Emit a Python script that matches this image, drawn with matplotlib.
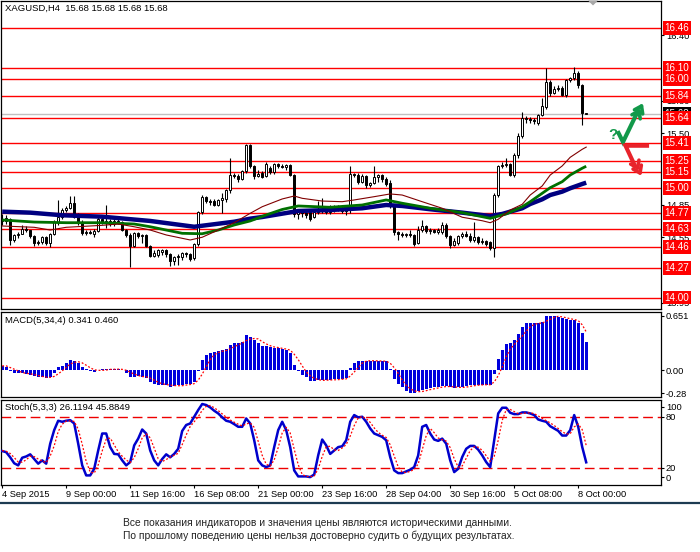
import numpy as np
import matplotlib
matplotlib.use("Agg")
import matplotlib.pyplot as plt
import matplotlib.transforms as mtrans
from matplotlib.patches import Polygon

plt.rcParams['font.family'] = ['Liberation Sans', 'DejaVu Sans']

# XAGUSD H4 candles, 4 Sep 2015 .. 8 Oct 2015
opens = [14.72, 14.70, 14.72, 14.53, 14.57, 14.58, 14.63, 14.62, 14.56, 14.50,
         14.51, 14.55, 14.50, 14.58, 14.69, 14.74, 14.80, 14.82, 14.86, 14.74,
         14.69, 14.59, 14.60, 14.58, 14.61, 14.72, 14.69, 14.70, 14.67, 14.70,
         14.69, 14.62, 14.57, 14.47, 14.59, 14.56, 14.57, 14.47, 14.38, 14.39,
         14.42, 14.43, 14.40, 14.33, 14.37, 14.37, 14.41, 14.40, 14.36, 14.49,
         14.78, 14.92, 14.88, 14.88, 14.85, 14.89, 14.90, 14.98, 15.12, 15.11,
         15.08, 15.16, 15.39, 15.20, 15.11, 15.14, 15.11, 15.18, 15.15, 15.22,
         15.20, 15.19, 15.21, 15.12, 14.76, 14.78, 14.77, 14.78, 14.74, 14.78,
         14.80, 14.79, 14.78, 14.80, 14.81, 14.80, 14.79, 14.80, 15.13, 15.12,
         15.06, 15.11, 15.03, 15.05, 15.10, 15.12, 15.08, 15.05, 14.84, 14.60,
         14.58, 14.57, 14.58, 14.57, 14.50, 14.62, 14.65, 14.61, 14.62, 14.60,
         14.60, 14.66, 14.56, 14.48, 14.50, 14.56, 14.58, 14.56, 14.53, 14.55,
         14.51, 14.52, 14.51, 14.45, 14.94, 15.20, 15.21, 15.22, 15.12, 15.30,
         15.48, 15.64, 15.63, 15.62, 15.60, 15.67, 15.74, 15.97, 15.87, 15.91,
         15.92, 15.85, 15.99, 16.01, 16.05, 15.94, 15.68]
highs = [14.76, 14.75, 14.73, 14.58, 14.60, 14.66, 14.65, 14.62, 14.57, 14.53,
         14.56, 14.56, 14.59, 14.71, 14.89, 14.82, 14.84, 14.93, 14.93, 14.77,
         14.71, 14.62, 14.62, 14.63, 14.74, 14.74, 14.85, 14.72, 14.72, 14.73,
         14.70, 14.63, 14.59, 14.60, 14.60, 14.58, 14.58, 14.48, 14.43, 14.44,
         14.44, 14.44, 14.41, 14.38, 14.40, 14.42, 14.42, 14.41, 14.50, 14.79,
         14.94, 14.93, 14.90, 14.90, 14.90, 14.96, 14.99, 15.28, 15.14, 15.13,
         15.17, 15.40, 15.40, 15.21, 15.17, 15.16, 15.24, 15.20, 15.23, 15.23,
         15.22, 15.22, 15.22, 15.13, 14.80, 14.80, 14.79, 14.80, 14.80, 14.88,
         14.91, 14.82, 14.85, 14.85, 14.85, 14.85, 14.83, 15.20, 15.14, 15.14,
         15.13, 15.12, 15.06, 15.20, 15.13, 15.13, 15.10, 15.07, 14.85, 14.61,
         14.60, 14.59, 14.62, 14.58, 14.65, 14.71, 14.66, 14.64, 14.63, 14.64,
         14.69, 14.68, 14.57, 14.54, 14.57, 14.60, 14.61, 14.59, 14.69, 14.56,
         14.54, 14.53, 14.52, 14.96, 15.21, 15.24, 15.28, 15.23, 15.32, 15.50,
         15.70, 15.66, 15.65, 15.64, 15.68, 15.82, 16.10, 15.99, 15.93, 15.94,
         15.93, 16.00, 16.02, 16.11, 16.07, 15.95, 15.68]
lows = [14.66, 14.67, 14.48, 14.51, 14.54, 14.58, 14.60, 14.54, 14.47, 14.48,
        14.49, 14.48, 14.46, 14.57, 14.66, 14.72, 14.78, 14.81, 14.73, 14.66,
        14.57, 14.57, 14.58, 14.55, 14.60, 14.67, 14.64, 14.65, 14.65, 14.67,
        14.61, 14.55, 14.28, 14.46, 14.54, 14.50, 14.46, 14.37, 14.37, 14.37,
        14.39, 14.37, 14.29, 14.30, 14.30, 14.34, 14.37, 14.33, 14.34, 14.47,
        14.76, 14.86, 14.85, 14.84, 14.84, 14.77, 14.87, 14.96, 15.09, 15.06,
        15.07, 15.14, 15.18, 15.08, 15.10, 15.09, 15.10, 15.13, 15.13, 15.18,
        15.18, 15.17, 15.11, 14.74, 14.72, 14.74, 14.73, 14.70, 14.73, 14.76,
        14.77, 14.76, 14.76, 14.78, 14.79, 14.77, 14.75, 14.77, 15.10, 15.04,
        15.05, 15.00, 15.01, 15.04, 15.06, 15.06, 15.02, 14.82, 14.57, 14.53,
        14.55, 14.55, 14.55, 14.47, 14.49, 14.60, 14.59, 14.58, 14.59, 14.58,
        14.58, 14.54, 14.45, 14.47, 14.48, 14.54, 14.55, 14.51, 14.51, 14.49,
        14.49, 14.47, 14.43, 14.37, 14.92, 15.18, 15.19, 15.11, 15.10, 15.28,
        15.46, 15.60, 15.60, 15.59, 15.58, 15.66, 15.72, 15.84, 15.86, 15.89,
        15.84, 15.83, 15.97, 15.99, 15.92, 15.58, 15.68]
closes = [14.70, 14.73, 14.53, 14.57, 14.58, 14.63, 14.62, 14.56, 14.50, 14.51,
          14.55, 14.50, 14.58, 14.69, 14.74, 14.80, 14.82, 14.86, 14.74, 14.69,
          14.59, 14.60, 14.59, 14.61, 14.72, 14.69, 14.70, 14.67, 14.70, 14.69,
          14.62, 14.57, 14.47, 14.59, 14.56, 14.57, 14.47, 14.38, 14.41, 14.43,
          14.43, 14.40, 14.33, 14.37, 14.38, 14.41, 14.40, 14.35, 14.49, 14.78,
          14.92, 14.88, 14.87, 14.85, 14.89, 14.91, 14.98, 15.12, 15.11, 15.08,
          15.16, 15.39, 15.20, 15.11, 15.13, 15.10, 15.22, 15.15, 15.22, 15.20,
          15.19, 15.21, 15.12, 14.76, 14.78, 14.77, 14.75, 14.72, 14.78, 14.80,
          14.79, 14.78, 14.80, 14.81, 14.80, 14.79, 14.80, 15.13, 15.12, 15.06,
          15.11, 15.03, 15.05, 15.10, 15.12, 15.08, 15.04, 14.84, 14.60, 14.58,
          14.57, 14.58, 14.57, 14.49, 14.62, 14.65, 14.61, 14.62, 14.60, 14.62,
          14.66, 14.56, 14.48, 14.52, 14.56, 14.58, 14.56, 14.53, 14.55, 14.51,
          14.52, 14.49, 14.45, 14.94, 15.20, 15.21, 15.22, 15.12, 15.30, 15.48,
          15.64, 15.63, 15.62, 15.61, 15.67, 15.75, 15.97, 15.87, 15.91, 15.92,
          15.85, 15.99, 16.01, 16.05, 15.94, 15.69, 15.68]

# moving averages, read at a handful of bars
ma_slow_idx = [0, 7, 15, 25, 37, 48, 58, 62, 65, 74, 82, 90, 96, 100, 107, 115,
               122, 125, 127, 130, 132, 135, 137, 140, 142, 145, 146]
ma_slow = [14.785, 14.776, 14.752, 14.739, 14.700, 14.647, 14.693, 14.721, 14.736,
           14.791, 14.800, 14.816, 14.846, 14.837, 14.807, 14.776, 14.745, 14.764,
           14.785, 14.816, 14.855, 14.898, 14.937, 14.968, 14.999, 15.038, 15.050]
ma_mid_idx = [0, 8, 16, 25, 33, 37, 41, 45, 50, 54, 58, 62, 66, 70, 74, 82, 90, 96,
              100, 107, 115, 122, 126, 130, 132, 135, 137, 140, 142, 145, 146]
ma_mid = [14.709, 14.690, 14.684, 14.684, 14.672, 14.647, 14.617, 14.587, 14.583,
          14.617, 14.663, 14.700, 14.755, 14.805, 14.837, 14.825, 14.846, 14.892,
          14.862, 14.816, 14.776, 14.724, 14.764, 14.830, 14.876, 14.953, 15.004,
          15.059, 15.120, 15.182, 15.200]
ma_fast_idx = [0, 8, 12, 16, 25, 29, 33, 37, 41, 47, 50, 54, 58, 62, 65, 70, 73, 75,
               80, 85, 88, 93, 97, 100, 105, 110, 115, 120, 122, 124, 127, 130, 132,
               135, 137, 140, 142, 145, 146]
ma_fast = [14.654, 14.642, 14.617, 14.642, 14.660, 14.672, 14.647, 14.617, 14.572,
           14.526, 14.551, 14.617, 14.684, 14.770, 14.830, 14.901, 14.928, 14.907,
           14.882, 14.876, 14.892, 14.922, 14.947, 14.937, 14.876, 14.816, 14.734,
           14.702, 14.684, 14.715, 14.800, 14.852, 14.937, 15.020, 15.120, 15.203,
           15.282, 15.355, 15.375]

# MACD(5,34,4)
macd_hist = [0.048, 0.040, -0.008, -0.040, -0.032, -0.040, -0.048, -0.060, -0.072, -0.088,
             -0.088, -0.100, -0.080, -0.040, 0.032, 0.048, 0.088, 0.120, 0.112, 0.080,
             0.032, 0.008, -0.008, -0.020, 0.004, 0.008, 0.010, 0.010, 0.008, 0.016,
             -0.002, -0.032, -0.080, -0.080, -0.072, -0.080, -0.100, -0.141, -0.169, -0.177,
             -0.177, -0.177, -0.201, -0.193, -0.185, -0.177, -0.169, -0.169, -0.141, -0.008,
             0.120, 0.181, 0.209, 0.221, 0.233, 0.241, 0.249, 0.301, 0.329, 0.329,
             0.341, 0.422, 0.394, 0.361, 0.321, 0.289, 0.289, 0.273, 0.261, 0.261,
             0.249, 0.241, 0.209, 0.060, -0.008, -0.060, -0.080, -0.129, -0.129, -0.120,
             -0.120, -0.120, -0.120, -0.112, -0.112, -0.104, -0.100, 0.020, 0.088, 0.112,
             0.112, 0.112, 0.112, 0.112, 0.104, 0.104, 0.104, 0.016, -0.112, -0.169,
             -0.209, -0.249, -0.273, -0.273, -0.249, -0.241, -0.233, -0.221, -0.209, -0.201,
             -0.193, -0.193, -0.209, -0.221, -0.209, -0.201, -0.193, -0.185, -0.177, -0.177,
             -0.177, -0.177, -0.177, -0.048, 0.129, 0.241, 0.313, 0.321, 0.361, 0.434,
             0.514, 0.562, 0.562, 0.562, 0.562, 0.578, 0.651, 0.651, 0.651, 0.635,
             0.622, 0.610, 0.606, 0.598, 0.570, 0.450, 0.341]
macd_signal = [0.050, 0.050, 0.030, 0.010, -0.010, -0.030, -0.040, -0.045, -0.055, -0.067,
               -0.077, -0.087, -0.089, -0.077, -0.047, -0.010, 0.032, 0.072, 0.092, 0.100,
               0.086, 0.058, 0.028, 0.003, -0.004, -0.004, 0.000, 0.008, 0.009, 0.011,
               0.008, -0.003, -0.025, -0.049, -0.066, -0.078, -0.083, -0.098, -0.123, -0.147,
               -0.166, -0.175, -0.183, -0.187, -0.189, -0.189, -0.181, -0.175, -0.164, -0.122,
               -0.050, 0.038, 0.126, 0.183, 0.211, 0.226, 0.236, 0.256, 0.280, 0.302,
               0.325, 0.355, 0.372, 0.380, 0.375, 0.341, 0.315, 0.293, 0.278, 0.271,
               0.261, 0.253, 0.240, 0.190, 0.126, 0.050, -0.022, -0.069, -0.100, -0.115,
               -0.125, -0.122, -0.120, -0.118, -0.116, -0.112, -0.107, -0.074, -0.024, 0.030,
               0.083, 0.106, 0.112, 0.112, 0.110, 0.108, 0.106, 0.082, 0.028, -0.040,
               -0.119, -0.185, -0.225, -0.251, -0.261, -0.259, -0.249, -0.236, -0.226, -0.216,
               -0.206, -0.199, -0.199, -0.204, -0.208, -0.210, -0.206, -0.197, -0.189, -0.183,
               -0.179, -0.177, -0.177, -0.145, -0.068, 0.036, 0.159, 0.251, 0.309, 0.357,
               0.408, 0.468, 0.518, 0.550, 0.562, 0.566, 0.588, 0.611, 0.633, 0.647,
               0.640, 0.630, 0.618, 0.609, 0.596, 0.545, 0.460]

# Stochastic(5,3,3)
stoch_main = [39.4, 38.0, 32.0, 25.0, 22.5, 31.5, 33.0, 35.5, 30.0, 24.5,
              28.4, 24.5, 48.0, 64.0, 75.0, 73.8, 75.0, 75.7, 71.8, 48.0,
              22.5, 10.7, 10.7, 18.5, 40.0, 60.0, 60.0, 44.0, 36.0, 35.5,
              28.4, 22.5, 26.4, 46.0, 54.0, 64.7, 60.0, 40.0, 28.4, 22.5,
              30.0, 35.5, 32.0, 36.0, 42.0, 63.0, 70.0, 71.8, 79.7, 87.6,
              94.7, 93.5, 90.7, 86.8, 83.6, 79.0, 75.0, 73.8, 71.0, 67.9,
              67.9, 77.7, 71.8, 52.0, 28.4, 22.5, 20.5, 22.5, 44.0, 64.0,
              73.8, 64.0, 44.0, 16.6, 9.5, 9.5, 9.5, 8.7, 11.8, 34.3,
              52.9, 46.0, 36.0, 40.0, 44.0, 45.0, 52.0, 73.8, 81.7, 79.0,
              79.7, 73.8, 65.9, 60.0, 58.0, 56.0, 52.0, 32.3, 16.6, 13.4,
              13.4, 15.4, 17.4, 20.5, 34.3, 67.9, 70.0, 60.0, 52.9, 51.3,
              54.0, 48.0, 28.4, 14.6, 18.5, 32.3, 42.0, 45.4, 45.4, 41.0,
              34.3, 26.4, 20.5, 52.0, 83.6, 90.3, 90.3, 84.4, 82.8, 82.8,
              84.8, 84.8, 83.6, 81.7, 76.5, 75.0, 73.8, 68.6, 65.9, 63.1,
              57.6, 57.6, 63.9, 81.7, 67.9, 44.2, 26.1]
stoch_signal = [40.0, 39.0, 36.5, 31.7, 26.5, 26.3, 29.0, 33.3, 32.8, 30.0,
                27.6, 25.8, 33.6, 45.5, 62.3, 70.9, 74.6, 74.8, 74.2, 65.2,
                47.4, 27.1, 14.6, 13.3, 23.1, 39.5, 53.3, 54.7, 46.7, 38.5,
                33.3, 28.8, 25.8, 31.6, 42.1, 54.9, 59.6, 54.9, 42.8, 30.3,
                27.0, 29.3, 32.5, 34.5, 36.7, 47.0, 58.3, 68.3, 73.8, 79.7,
                87.3, 91.9, 93.0, 90.3, 87.0, 83.1, 79.2, 75.9, 73.3, 70.9,
                68.9, 71.2, 72.5, 67.2, 50.7, 34.3, 23.8, 21.8, 29.0, 43.5,
                60.6, 67.3, 60.6, 41.5, 23.4, 11.9, 9.5, 9.2, 10.0, 18.3,
                33.0, 44.4, 45.0, 40.7, 40.0, 43.0, 47.0, 56.9, 69.2, 78.2,
                80.1, 77.5, 73.1, 66.6, 61.3, 58.0, 55.3, 46.8, 33.6, 20.8,
                14.5, 14.1, 15.4, 17.8, 24.1, 40.9, 57.4, 66.0, 61.0, 54.7,
                52.7, 51.1, 43.5, 30.3, 20.5, 21.8, 30.9, 39.9, 44.3, 43.9,
                40.2, 33.9, 27.1, 33.0, 52.0, 75.3, 88.1, 88.3, 85.8, 83.3,
                83.5, 84.1, 84.4, 83.4, 80.6, 77.7, 75.1, 72.5, 69.4, 65.9,
                62.2, 59.4, 59.7, 67.7, 71.2, 64.6, 45.9]

levels = [16.46, 16.10, 16.00, 15.84, 15.64, 15.41, 15.25, 15.15, 15.00,
          14.77, 14.63, 14.46, 14.27, 14.00]
last_price = 15.68
price_ticks = [16.40, 15.80, 15.50, 14.85, 14.55, 13.95]
time_ticks = [0, 16, 32, 48, 64, 80, 96, 112, 128, 144]
time_labels = ['4 Sep 2015', '9 Sep 00:00', '11 Sep 16:00', '16 Sep 08:00', '21 Sep 00:00',
               '23 Sep 16:00', '28 Sep 04:00', '30 Sep 16:00', '5 Oct 08:00', '8 Oct 00:00']
macd_ticks = [0.651, 0.0, -0.28]
macd_tick_labels = ['0.651', '0.00', '-0.28']
stoch_ticks = [91.5, 80, 20, 8.5]
stoch_tick_labels = ['100', '80', '20', '0']
footer = ['Все показания индикаторов и значения цены являются историческими данными.',
          'По прошлому поведению цены нельзя достоверно судить о будущих результатах.']

W, H = 700, 552
FS = 6.7
fig = plt.figure(figsize=(W / 100, H / 100), dpi=100)


def px_axes(x0, y0, x1, y1):
    return fig.add_axes([x0 / W, 1 - y1 / H, (x1 - x0) / W, (y1 - y0) / H])


ax = px_axes(1, 1, 661, 309)
ax_macd = px_axes(1, 311.5, 661, 397)
ax_st = px_axes(1, 399.5, 661, 484.5)

n = len(closes)
idx = np.arange(n)
o = np.array(opens)
c = np.array(closes)
hi = np.array(highs)
lo = np.array(lows)
up = c >= o
body = np.maximum(np.abs(c - o), 0.004)
bottom = np.minimum(o, c)

for a in (ax, ax_macd, ax_st):
    a.set_xlim(-0.3, 164.7)
    for s in a.spines.values():
        s.set_color('black')
        s.set_linewidth(0.9)

# ---- main window
ax.set_ylim(13.895, 16.711)
ax.axhline(last_price, color='#c0c0c0', lw=1.0, zorder=1)
for lv in levels:
    ax.axhline(lv, color='#ff0000', lw=1.0, zorder=2)
ax.vlines(idx, lo, hi, color='black', lw=0.8, zorder=3)
ax.bar(idx[up], body[up], bottom=bottom[up], width=0.62, color='white',
       edgecolor='black', lw=0.7, zorder=4)
ax.bar(idx[~up], body[~up], bottom=bottom[~up], width=0.62, color='black',
       edgecolor='black', lw=0.7, zorder=4)
ax.plot(ma_slow_idx, ma_slow, color='#000080', lw=3.2, zorder=5, solid_capstyle='butt')
ax.plot(ma_mid_idx, ma_mid, color='#007000', lw=2.0, zorder=6, solid_capstyle='butt')
ax.plot(ma_fast_idx, ma_fast, color='#800000', lw=0.8, zorder=7)

ax.yaxis.tick_right()
ax.set_yticks(price_ticks)
ax.set_yticklabels([f'{v:.2f}' for v in price_ticks])
ax.tick_params(axis='y', direction='out', length=2.5, width=0.8, pad=1, labelsize=FS)
ax.set_xticks([])

trans = mtrans.blended_transform_factory(ax.transAxes, ax.transData)
lx = 1 + 3.5 / 660
ax.text(lx, last_price, f'{last_price:.2f}', transform=trans, ha='left', va='center',
        color='white', fontsize=7.1, zorder=8,
        bbox=dict(boxstyle='square,pad=0.2', fc='black', ec='none'))
for lv in levels:
    ax.text(lx, lv, f'{lv:.2f}', transform=trans, ha='left', va='center', color='white',
            fontsize=7.1, zorder=9, bbox=dict(boxstyle='square,pad=0.2', fc='#ff0000', ec='none'))
ax.text(4 / 660, 1 - 7.5 / 308, 'XAGUSD,H4  15.68 15.68 15.68 15.68', transform=ax.transAxes,
        fontsize=6.8, va='center', ha='left')

# ---- MACD window
ax_macd.set_ylim(-0.325, 0.705)
ax_macd.bar(idx, macd_hist, width=0.75, color='#0000dd', zorder=2)
ax_macd.plot(idx, macd_signal, color='#ff0000', lw=0.9, ls=(0, (1.5, 1.5)), zorder=3)
ax_macd.yaxis.tick_right()
ax_macd.set_yticks(macd_ticks)
ax_macd.set_yticklabels(macd_tick_labels)
ax_macd.tick_params(axis='y', direction='out', length=2.5, width=0.8, pad=1, labelsize=FS)
ax_macd.set_xticks([])
ax_macd.text(4 / 660, 0.90, 'MACD(5,34,4) 0.341 0.460', transform=ax_macd.transAxes,
             fontsize=6.8, va='center', ha='left')

# ---- Stochastic window
ax_st.set_ylim(0, 100)
for lv in (80, 20):
    ax_st.axhline(lv, color='#ee0000', lw=1.0, ls=(0, (7, 3.5)), zorder=1)
ax_st.plot(idx, stoch_main, color='#0000cc', lw=1.8, zorder=3)
ax_st.plot(idx, stoch_signal, color='#ff0000', lw=0.9, ls=(0, (1.5, 1.5)), zorder=4)
ax_st.yaxis.tick_right()
ax_st.set_yticks(stoch_ticks)
ax_st.set_yticklabels(stoch_tick_labels)
ax_st.tick_params(axis='y', direction='out', length=2.5, width=0.8, pad=1, labelsize=FS)
ax_st.set_xticks(time_ticks)
ax_st.set_xticklabels(time_labels, ha='left')
ax_st.tick_params(axis='x', direction='out', length=2.5, width=0.8, pad=1.5, labelsize=FS)
ax_st.text(4 / 660, 0.90, 'Stoch(5,3,3) 26.1194 45.8849', transform=ax_st.transAxes,
           fontsize=6.8, va='center', ha='left')

# ---- overlay in pixel units: forecast arrows, separator, disclaimer
ov = fig.add_axes([0, 0, 1, 1], zorder=10)
ov.set_xlim(0, W)
ov.set_ylim(H, 0)
ov.axis('off')
ov.patch.set_alpha(0)

ov.add_patch(Polygon([[588, 0.5], [598, 0.5], [593, 5.5]], closed=True, fc='#a8a8a8', ec='none'))


def chevrons(tip, direction, color):
    d = np.array(direction, dtype=float)
    d = d / np.hypot(*d)
    for back in (0, 5.5):
        t = np.array(tip) - d * back
        for ang in (145, -145):
            r = np.radians(ang)
            w = np.array([d[0] * np.cos(r) - d[1] * np.sin(r),
                          d[0] * np.sin(r) + d[1] * np.cos(r)])
            p = t + w * 8
            ov.plot([t[0], p[0]], [t[1], p[1]], color=color, lw=2.6, solid_capstyle='round')


green = '#12994a'
red = '#e8232b'
ov.text(613, 135, '?', color=green, fontsize=11, fontweight='bold', ha='center', va='center')
ov.plot([618.5, 623, 637.5], [133, 142, 112], color=green, lw=3.0, solid_joinstyle='miter')
chevrons((641.5, 106), (15, -30), green)
ov.plot([647, 625.5, 635], [145.7, 145.7, 166], color=red, lw=3.0, solid_joinstyle='miter')
chevrons((640, 173), (10, 21), red)

ov.plot([0, W], [502.5, 502.5], color='#1d3b52', lw=1.6)
ov.text(123, 522.5, footer[0], fontsize=7.4, color='#222222', ha='left', va='center')
ov.text(123, 535.5, footer[1], fontsize=7.4, color='#222222', ha='left', va='center')

fig.savefig('out.png', dpi=100)
